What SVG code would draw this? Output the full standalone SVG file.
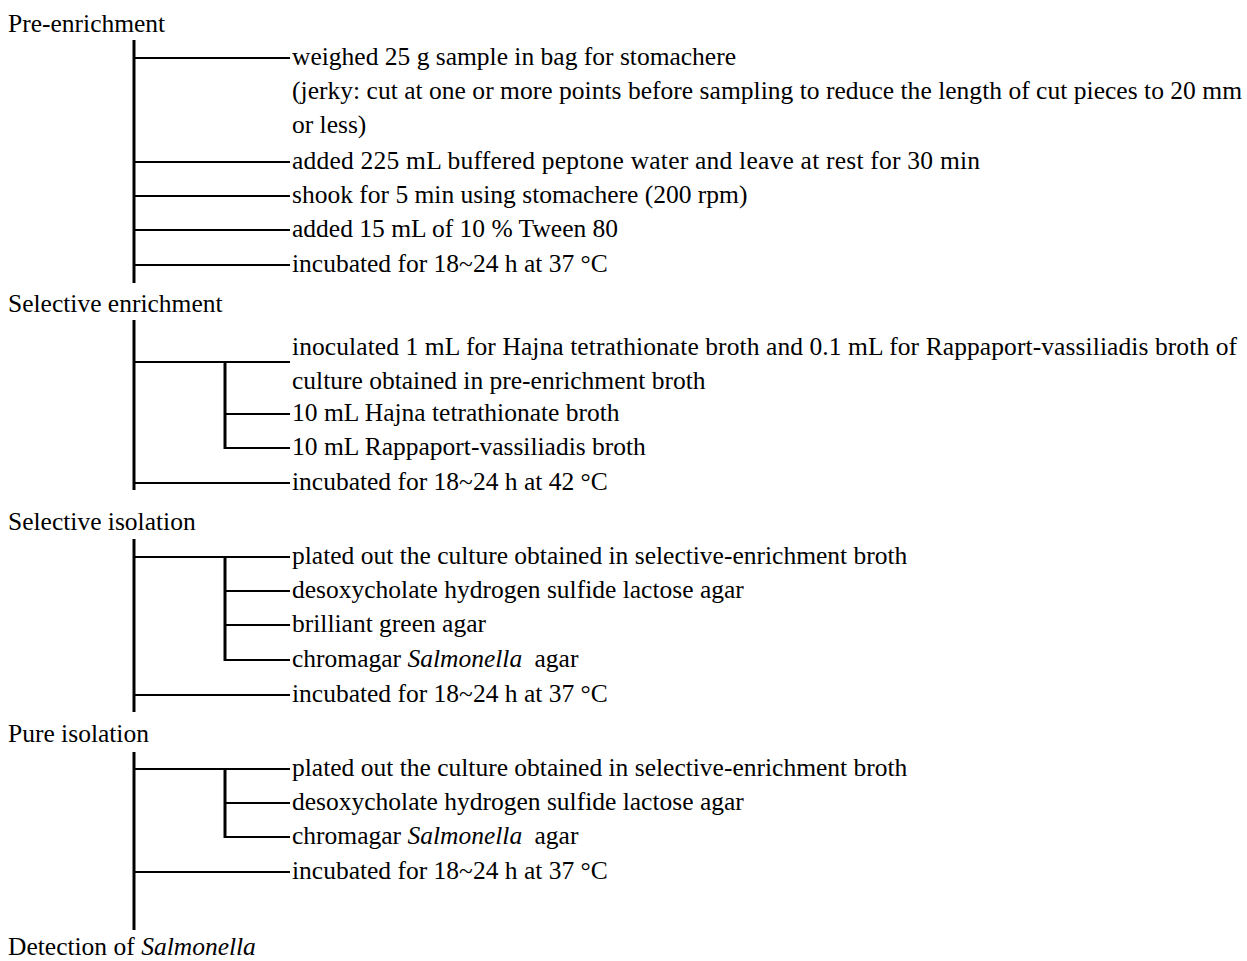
<svg xmlns="http://www.w3.org/2000/svg" width="1247" height="961" viewBox="0 0 1247 961" font-family="'Liberation Serif', serif">
<style>
text{font-family:'Liberation Serif', serif;font-size:25.5px;fill:#000}
.i{font-style:italic}
.v{stroke:#000;stroke-width:3;fill:none}
.h{stroke:#000;stroke-width:2;fill:none}
</style>
<rect width="1247" height="961" fill="#fff"/>
<g id="connectors">
<line class="v" x1="134" y1="40" x2="134" y2="283"/>
<line class="h" x1="134" y1="58" x2="290" y2="58"/>
<line class="h" x1="134" y1="162" x2="290" y2="162"/>
<line class="h" x1="134" y1="196" x2="290" y2="196"/>
<line class="h" x1="134" y1="230" x2="290" y2="230"/>
<line class="h" x1="134" y1="265" x2="290" y2="265"/>
<line class="v" x1="134" y1="320" x2="134" y2="490"/>
<line class="h" x1="134" y1="362" x2="290" y2="362"/>
<line class="v" x1="225" y1="362" x2="225" y2="449"/>
<line class="h" x1="225" y1="414" x2="290" y2="414"/>
<line class="h" x1="225" y1="448" x2="290" y2="448"/>
<line class="h" x1="134" y1="483" x2="290" y2="483"/>
<line class="v" x1="134" y1="539" x2="134" y2="712"/>
<line class="h" x1="134" y1="557" x2="290" y2="557"/>
<line class="v" x1="225" y1="557" x2="225" y2="661"/>
<line class="h" x1="225" y1="591" x2="290" y2="591"/>
<line class="h" x1="225" y1="625" x2="290" y2="625"/>
<line class="h" x1="225" y1="660" x2="290" y2="660"/>
<line class="h" x1="134" y1="695" x2="290" y2="695"/>
<line class="v" x1="134" y1="752" x2="134" y2="930"/>
<line class="h" x1="134" y1="769" x2="290" y2="769"/>
<line class="v" x1="225" y1="769" x2="225" y2="838"/>
<line class="h" x1="225" y1="803" x2="290" y2="803"/>
<line class="h" x1="225" y1="837" x2="290" y2="837"/>
<line class="h" x1="134" y1="872" x2="290" y2="872"/>
</g>
<g id="pre-enrichment">
<text x="8" y="32">Pre-enrichment</text>
<text x="292" y="65">weighed 25 g sample in bag for stomachere</text>
<text x="292" y="99" textLength="950" lengthAdjust="spacing">(jerky: cut at one or more points before sampling to reduce the length of cut pieces to 20 mm</text>
<text x="292" y="133">or less)</text>
<text x="292" y="169" textLength="688" lengthAdjust="spacing">added 225 mL buffered peptone water and leave at rest for 30 min</text>
<text x="292" y="203">shook for 5 min using stomachere (200 rpm)</text>
<text x="292" y="237">added 15 mL of 10 % Tween 80</text>
<text x="292" y="272">incubated for 18~24 h at 37 °C</text>
</g>
<g id="selective-enrichment">
<text x="8" y="312">Selective enrichment</text>
<text x="292" y="355" textLength="945" lengthAdjust="spacing">inoculated 1 mL for Hajna tetrathionate broth and 0.1 mL for Rappaport-vassiliadis broth of</text>
<text x="292" y="389">culture obtained in pre-enrichment broth</text>
<text x="292" y="421">10 mL Hajna tetrathionate broth</text>
<text x="292" y="455">10 mL Rappaport-vassiliadis broth</text>
<text x="292" y="490">incubated for 18~24 h at 42 °C</text>
</g>
<g id="selective-isolation">
<text x="8" y="530">Selective isolation</text>
<text x="292" y="564">plated out the culture obtained in selective-enrichment broth</text>
<text x="292" y="598">desoxycholate hydrogen sulfide lactose agar</text>
<text x="292" y="632">brilliant green agar</text>
<text x="292" y="667">chromagar <tspan class="i">Salmonella</tspan><tspan dx="6"> agar</tspan></text>
<text x="292" y="702">incubated for 18~24 h at 37 °C</text>
</g>
<g id="pure-isolation">
<text x="8" y="742">Pure isolation</text>
<text x="292" y="776">plated out the culture obtained in selective-enrichment broth</text>
<text x="292" y="810">desoxycholate hydrogen sulfide lactose agar</text>
<text x="292" y="844">chromagar <tspan class="i">Salmonella</tspan><tspan dx="6"> agar</tspan></text>
<text x="292" y="879">incubated for 18~24 h at 37 °C</text>
</g>
<g id="detection">
<text x="8" y="955">Detection of <tspan class="i">Salmonella</tspan></text>
</g>
</svg>
